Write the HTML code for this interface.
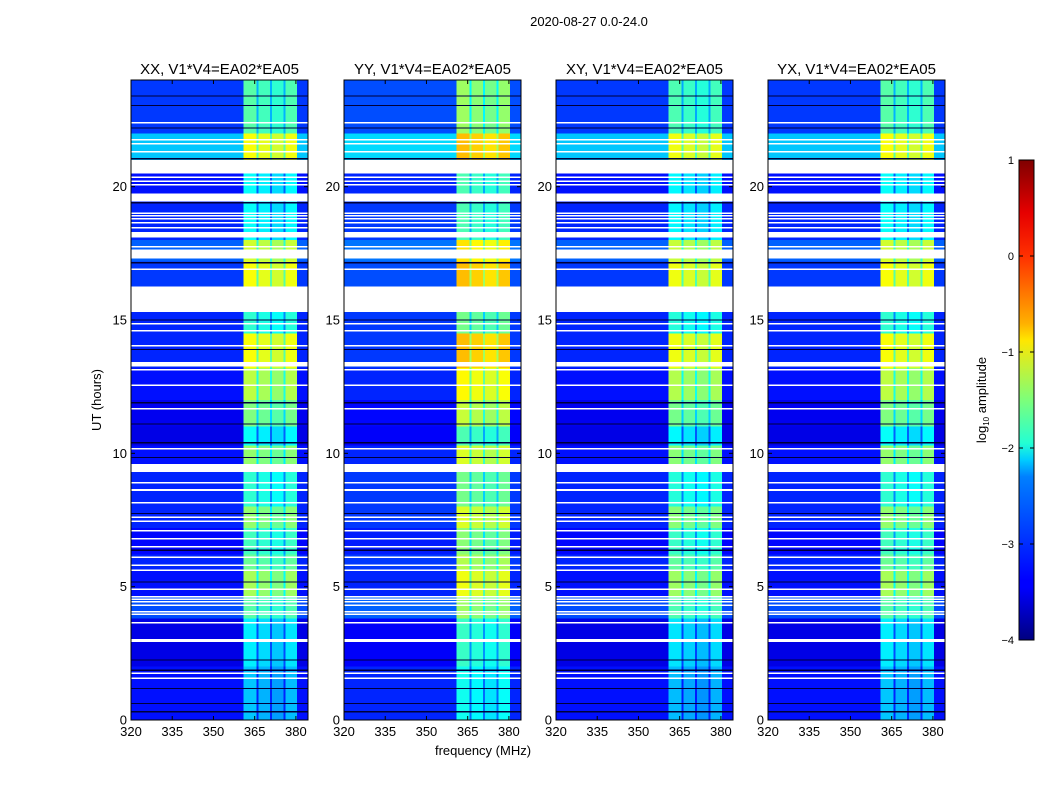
<!DOCTYPE html>
<html><head><meta charset="utf-8">
<style>
body{margin:0;background:#fff;}
svg text{font-family:"Liberation Sans",sans-serif;fill:#000;}
</style></head>
<body>
<svg id="fig" width="1050" height="800" viewBox="0 0 1050 800" xmlns="http://www.w3.org/2000/svg">
<defs>
<linearGradient id="jetgrad" x1="0" y1="1" x2="0" y2="0">
<stop offset="0" stop-color="#00007f"/><stop offset="0.11" stop-color="#0000ff"/>
<stop offset="0.125" stop-color="#0000ff"/><stop offset="0.34" stop-color="#0080ff"/>
<stop offset="0.375" stop-color="#00ccff"/><stop offset="0.41" stop-color="#23ffd4"/>
<stop offset="0.5" stop-color="#7dff7a"/><stop offset="0.625" stop-color="#ffe600"/>
<stop offset="0.66" stop-color="#ffb000"/><stop offset="0.8" stop-color="#ff3000"/>
<stop offset="0.89" stop-color="#e60000"/><stop offset="1" stop-color="#7f0000"/>
</linearGradient>
</defs>
<text x="589" y="26" font-size="13" text-anchor="middle">2020-08-27 0.0-24.0</text>
<g id="panels"></g>
<text x="0" y="0" font-size="13" text-anchor="middle" transform="translate(101,400) rotate(-90)">UT (hours)</text>
<text x="483" y="755" font-size="13" text-anchor="middle">frequency (MHz)</text>
<g id="cbar"></g>
</svg>
<script>
// ---- data ----
const panelTitles = ["XX, V1*V4=EA02*EA05","YY, V1*V4=EA02*EA05","XY, V1*V4=EA02*EA05","YX, V1*V4=EA02*EA05"];
const panelBandOffset = [0, 0.35, -0.05, 0.0];
const panelBgOffset = [0, 0.1, 0, 0];
const segStart = [0, 2.0, 3.8, 4.6, 5.6, 6.2, 7.2, 8.0, 9.6, 10.3, 11.0, 12.0, 13.2, 14.5, 16.2, 17.2, 18.0, 19.5, 21.0, 22.0];
const segEnd   = [2.0, 3.8, 4.6, 5.6, 6.2, 7.2, 8.0, 9.3, 10.3, 11.0, 12.0, 13.2, 14.5, 15.3, 17.2, 18.0, 19.5, 20.8, 22.0, 24.0];
const segBg    = [-3.3,-3.5,-3.0,-3.3,-3.2,-3.35,-3.2,-3.2,-3.3,-3.5,-3.45,-3.3,-3.2,-3.2,-3.1,-2.9,-3.2,-3.3,-2.4,-3.1];
const segBand  = [-2.5,-2.3,-1.8,-1.4,-1.7,-1.9,-1.5,-2.0,-1.5,-2.2,-1.6,-1.3,-1.0,-2.0,-1.0,-1.2,-2.2,-2.2,-1.0,-1.8];
const chanStart = [320, 360.9, 365.6, 366.4, 370.5, 371.3, 375.4, 376.2, 380.4];
const chanEnd   = [360.9, 365.6, 366.4, 370.5, 371.3, 375.4, 376.2, 380.4, 384.4];
const chanOffset= [null, 0.1, -0.7, 0.0, -0.7, -0.1, -0.7, 0.05, null];
const flagStart = [22.38,21.73,21.58,21.28,20.88,20.5,20.33,20.18,20.05,19.45,18.98,18.88,18.78,18.63,18.43,18.1,17.73,17.3,16.88,15.3,14.84,14.58,14.02,13.25,13.11,12.53,11.65,10.15,9.4,8.88,8.58,8.12,7.58,7.43,7.08,6.78,6.48,6.08,5.78,5.6,4.88,4.6,4.5,4.41,4.29,4.04,3.95,3.62,2.92,1.73,1.54];
const flagEnd   = [22.43,21.78,21.63,21.33,20.93,20.85,20.38,20.23,20.1,19.75,19.03,18.93,18.83,18.68,18.48,18.3,17.78,17.65,16.93,16.25,14.89,14.63,14.07,13.42,13.16,12.58,11.7,10.2,9.58,8.93,8.67,8.17,7.63,7.48,7.13,6.83,6.53,6.13,5.83,5.65,4.93,4.65,4.55,4.46,4.34,4.09,4.0,3.67,3.03,1.78,1.59];
const darkHours = [23.4,23.05,22.2,21.05,19.4,17.15,15.0,13.9,11.9,11.1,10.4,9.85,7.75,6.37,5.18,2.25,1.87,1.19,0.62,0.31];
const yTicks = [0,5,10,15,20];
const xTicks = [320,335,350,365,380];
const cbTicks = [-4,-3,-2,-1,0,1];

// ---- helpers ----
const NS="http://www.w3.org/2000/svg";
function jet(v){
  let t=Math.max(0,Math.min(1,(v+4)/5));
  const f=(x)=>Math.max(0,Math.min(1,x));
  const r=f(1.5-Math.abs(4*t-3)), g=f(1.5-Math.abs(4*t-2)), b=f(1.5-Math.abs(4*t-1));
  return `rgb(${Math.round(r*255)},${Math.round(g*255)},${Math.round(b*255)})`;
}
const panelX=[131,344,556,768], PW=177, PT=80, PB=720;
function yS(h){return PB-(h/24)*(PB-PT);}
function xS(px,f){return px+(f-320)*(PW/64.4);}
function mk(tag,attrs,parent){const e=document.createElementNS(NS,tag);for(const k in attrs)e.setAttribute(k,attrs[k]);parent.appendChild(e);return e;}

const panels=document.getElementById('panels');
for(let p=0;p<4;p++){
  const x0=panelX[p];
  const g=mk('g',{},panels);
  
  
  const hm=mk('g',{'shape-rendering':'crispEdges'},g);
  
  
  for(let s=0;s<segStart.length;s++){
    for(let c=0;c<chanStart.length;c++){
      const v = chanOffset[c]===null ? segBg[s]+panelBgOffset[p] : segBand[s]+panelBandOffset[p]+chanOffset[c];
      const xa=xS(x0,chanStart[c]), xb=xS(x0,chanEnd[c]);
      const ya=yS(segEnd[s]), yb=yS(segStart[s]);
      const r=mk('rect',{x:xa.toFixed(2),y:ya.toFixed(2),width:(xb-xa).toFixed(2),height:(yb-ya).toFixed(2),fill:jet(v)},hm);
      
      
    }
  }
  for(let i=0;i<darkHours.length;i++){
    const r=mk('rect',{x:x0,y:(yS(darkHours[i])-0.5).toFixed(2),width:PW,height:1.2,fill:'#00003a'},hm);
    
    
  }
  for(let i=0;i<flagStart.length;i++){
    const ya=yS(flagEnd[i]), yb=yS(flagStart[i]);
    const r=mk('rect',{x:x0,y:ya.toFixed(2),width:PW,height:Math.max(1.5,yb-ya).toFixed(2),fill:'#fff'},hm);
    
    
  }
  const fr=mk('rect',{x:x0,y:PT,width:PW,height:PB-PT,fill:'none',stroke:'#000','stroke-width':1},g);
  
  
  const t=mk('text',{x:x0+PW/2,y:74,'font-size':15,'text-anchor':'middle'},g);
  t.textContent=panelTitles[p];
  
  
  for(const h of yTicks){
    const y=yS(h);
    mk('line',{x1:x0,x2:x0+4,y1:y,y2:y,stroke:'#000'},g);
    mk('line',{x1:x0+PW-4,x2:x0+PW,y1:y,y2:y,stroke:'#000'},g);
    const tl=mk('text',{x:x0-4,y:y+4.5,'font-size':13,'text-anchor':'end'},g);
    tl.textContent=h;
    
    
  }
  for(const f of xTicks){
    const x=xS(x0,f);
    mk('line',{x1:x,x2:x,y1:PB,y2:PB-4,stroke:'#000'},g);
    mk('line',{x1:x,x2:x,y1:PT,y2:PT+4,stroke:'#000'},g);
    const tl=mk('text',{x:x,y:PB+16,'font-size':13,'text-anchor':'middle'},g);
    tl.textContent=f;
    
    
  }
}
const cb=document.getElementById('cbar');
const CX=1019,CW=15,CT=160,CB=640;
mk('rect',{x:CX,y:CT,width:CW,height:CB-CT,fill:'url(#jetgrad)',stroke:'#000'},cb);
for(const v of cbTicks){
  const y=CB-(v+4)/5*(CB-CT);
  mk('line',{x1:CX,x2:CX+4,y1:y,y2:y,stroke:'#000'},cb);
  mk('line',{x1:CX+CW-4,x2:CX+CW,y1:y,y2:y,stroke:'#000'},cb);
  const tl=mk('text',{x:CX-5,y:y+4,'font-size':11,'text-anchor':'end'},cb);
  tl.textContent=v<0?'\u2212'+(-v):String(v);
  
  
}
const lab=mk('text',{'font-size':13,'text-anchor':'middle',transform:'translate(986,400) rotate(-90)'},cb);
lab.innerHTML='log<tspan font-size="8" dy="3">10</tspan><tspan dy="-3"> amplitude</tspan>';


</script>
</body></html>
